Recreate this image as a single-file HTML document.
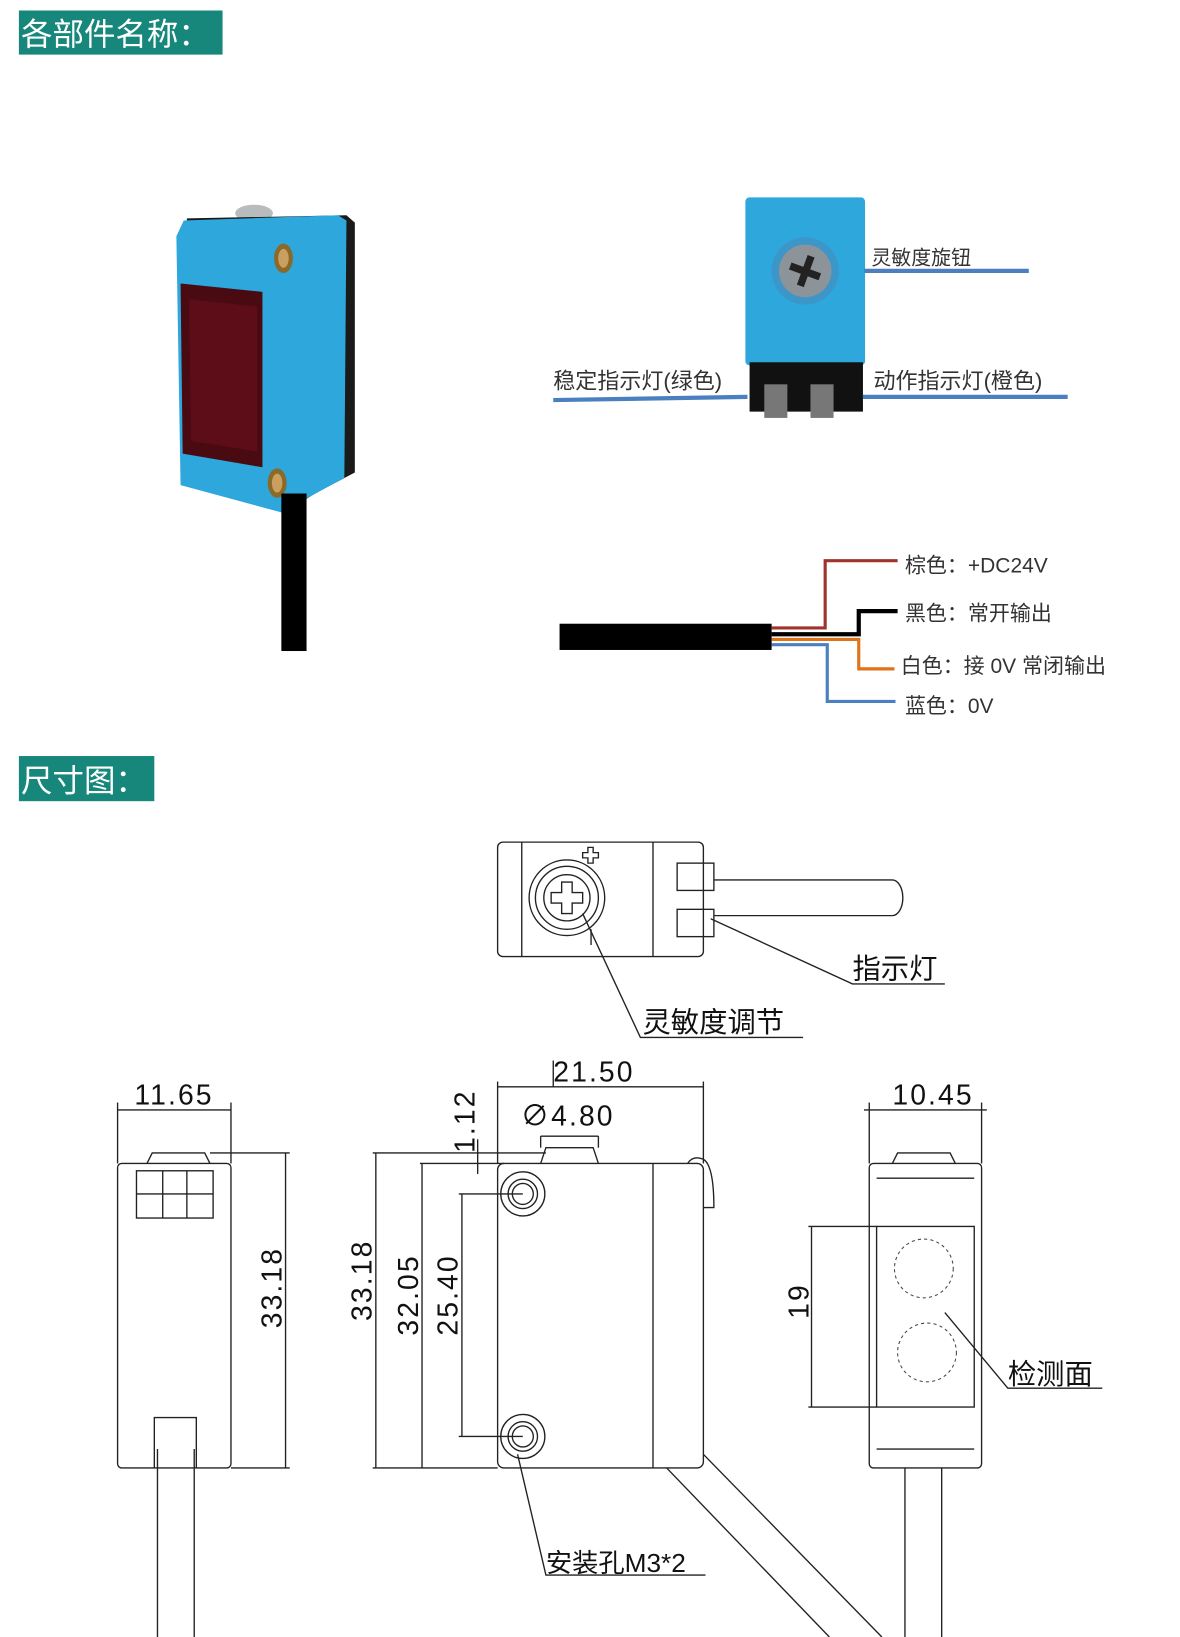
<!DOCTYPE html>
<html><head><meta charset="utf-8"><style>
html,body{margin:0;padding:0;background:#fff;}
svg{display:block;}
text{font-family:"Liberation Sans","Noto Sans CJK SC",sans-serif;}
</style></head><body>
<svg width="1180" height="1637" viewBox="0 0 1124 1559" preserveAspectRatio="none" xmlns="http://www.w3.org/2000/svg">
<!-- headers -->
<rect x="18" y="10" width="194" height="42" fill="#17877c"/>
<text x="20" y="43" font-size="30" fill="#fff" font-family="Noto Sans CJK SC">各部件名称：</text>
<rect x="18" y="720" width="129" height="43" fill="#17877c"/>
<text x="20" y="754" font-size="30" fill="#fff" font-family="Noto Sans CJK SC">尺寸图：</text>

<!-- sensor photo -->
<ellipse cx="242" cy="203" rx="18" ry="8" fill="#b8bcbc"/>
<polygon points="178,208 330,205 338,212 338,450 300,470 272,488 178,462" fill="#1a1a1a"/>
<polygon points="175,210 322,205 330,210 328,455 268,488 172,462 168,225" fill="#2ea7dc"/>
<polygon points="172,270 250,278 250,445 174,432" fill="#4a0a12"/>
<polygon points="180,285 245,292 245,430 182,420" fill="#6a0f1a" opacity="0.6"/>
<ellipse cx="270" cy="246" rx="9" ry="14" fill="#8a6a2a"/>
<ellipse cx="270" cy="246" rx="5" ry="9" fill="#c9a060"/>
<ellipse cx="264" cy="460" rx="9" ry="14" fill="#8a6a2a"/>
<ellipse cx="264" cy="460" rx="5" ry="9" fill="#c9a060"/>
<rect x="268" y="470" width="24" height="150" fill="#000"/>

<!-- top view photo -->
<rect x="710" y="188" width="114" height="160" rx="4" fill="#2ea7dc"/>
<rect x="714" y="345" width="108" height="47" fill="#111"/>
<rect x="728" y="366" width="22" height="32" fill="#777"/>
<rect x="772" y="366" width="22" height="32" fill="#777"/>
<circle cx="767" cy="258" r="32" fill="#3d96c8"/>
<circle cx="767" cy="258" r="25" fill="#8c9499"/>
<rect x="764" y="243" width="7" height="30" fill="#222" transform="rotate(20 767 258)"/>
<rect x="752" y="255" width="30" height="7" fill="#222" transform="rotate(20 767 258)"/>
<line x1="823" y1="258" x2="980" y2="258" stroke="#4a7fc0" stroke-width="4"/>
<text x="830" y="252" font-size="19" fill="#333" font-family="Liberation Serif,Noto Serif CJK SC,serif">灵敏度旋钮</text>
<line x1="527" y1="381" x2="712" y2="378" stroke="#4a7fc0" stroke-width="4"/>
<text x="527" y="370" font-size="21" fill="#333" font-family="Liberation Serif,Noto Serif CJK SC,serif">稳定指示灯(绿色)</text>
<line x1="822" y1="378" x2="1017" y2="378" stroke="#4a7fc0" stroke-width="4"/>
<text x="832" y="370" font-size="21" fill="#333" font-family="Liberation Serif,Noto Serif CJK SC,serif">动作指示灯(橙色)</text>

<!-- wires -->
<rect x="533" y="594" width="202" height="25" fill="#000"/>
<polyline points="735,598 786,598 786,534 855,534" fill="none" stroke="#a0342c" stroke-width="3"/>
<polyline points="735,604 818,604 818,582 855,582" fill="none" stroke="#000" stroke-width="4"/>
<polyline points="735,609 818,609 818,637 852,637" fill="none" stroke="#e0721a" stroke-width="3"/>
<polyline points="735,614 788,614 788,668 853,668" fill="none" stroke="#4a7fc0" stroke-width="3"/>
<g font-size="20" fill="#333" font-family="Liberation Serif,Noto Serif CJK SC,serif">
<text x="862" y="545">棕色：+DC24V</text>
<text x="862" y="591">黑色：常开输出</text>
<text x="858" y="641">白色：接 0V 常闭输出</text>
<text x="862" y="679">蓝色：0V</text>
</g>

<g fill="none" stroke="#222" stroke-width="1.3">
<!-- top drawing -->
<rect x="474" y="802" width="196" height="109" rx="5"/>
<line x1="497" y1="802" x2="497" y2="911"/>
<line x1="622" y1="802" x2="622" y2="911"/>
<circle cx="540" cy="855" r="36"/>
<circle cx="540" cy="855" r="30"/>
<circle cx="540" cy="855" r="22"/>
<path d="M535,840 h10 v10 h10 v10 h-10 v10 h-10 v-10 h-10 v-10 h10 z"/>
<path d="M555,812 h5 v-5 h5 v5 h5 v5 h-5 v5 h-5 v-5 h-5 z"/>
<line x1="563" y1="885" x2="563" y2="900"/>
<rect x="645" y="822" width="35" height="26"/>
<rect x="645" y="866" width="35" height="26"/>
<path d="M680,838 H850 a10,17 0 0 1 0,34 H680"/>
<polyline points="677,875 812,937 900,937"/>
<polyline points="555,870 610,988 765,988"/>

<!-- left view -->
<rect x="112" y="1108" width="108" height="290" rx="4"/>
<path d="M140,1108 L145,1098 H195 L200,1108"/>
<rect x="130" y="1115" width="73" height="45"/>
<line x1="155" y1="1115" x2="155" y2="1160"/>
<line x1="178" y1="1115" x2="178" y2="1160"/>
<line x1="130" y1="1137" x2="203" y2="1137"/>
<path d="M147,1398 V1350 H187 V1398"/>
<line x1="150" y1="1380" x2="150" y2="1559"/>
<line x1="185" y1="1380" x2="185" y2="1559"/>
<line x1="112" y1="1050" x2="112" y2="1108"/>
<line x1="220" y1="1050" x2="220" y2="1108"/>
<line x1="112" y1="1057" x2="220" y2="1057"/>
<line x1="200" y1="1098" x2="276" y2="1098"/>
<line x1="220" y1="1398" x2="276" y2="1398"/>
<line x1="272" y1="1098" x2="272" y2="1398"/>

<!-- front view -->
<rect x="474" y="1108" width="196" height="290" rx="6"/>
<line x1="622" y1="1108" x2="622" y2="1398"/>
<path d="M515,1108 L520,1093 H565 L570,1108"/>
<path d="M655,1108 Q660,1100 670,1104 Q680,1110 680,1150 L670,1150"/>
<circle cx="498" cy="1137" r="21"/><circle cx="498" cy="1137" r="14"/><circle cx="498" cy="1137" r="10"/>
<circle cx="498" cy="1368" r="21"/><circle cx="498" cy="1368" r="14"/><circle cx="498" cy="1368" r="10"/>
<line x1="355" y1="1098" x2="520" y2="1098"/>
<line x1="355" y1="1398" x2="474" y2="1398"/>
<line x1="358" y1="1098" x2="358" y2="1398"/>
<line x1="400" y1="1108" x2="480" y2="1108"/>
<line x1="402" y1="1108" x2="402" y2="1398"/>
<line x1="437" y1="1137" x2="498" y2="1137"/>
<line x1="437" y1="1368" x2="498" y2="1368"/>
<line x1="440" y1="1137" x2="440" y2="1368"/>
<line x1="455" y1="1085" x2="455" y2="1118"/>
<line x1="474" y1="1030" x2="474" y2="1108"/>
<line x1="670" y1="1030" x2="670" y2="1108"/>
<line x1="474" y1="1035" x2="670" y2="1035"/>
<line x1="527" y1="1010" x2="527" y2="1035"/>
<line x1="515" y1="1082" x2="570" y2="1082"/>
<line x1="515" y1="1082" x2="515" y2="1093"/>
<line x1="570" y1="1082" x2="570" y2="1093"/>
<polyline points="493,1385 520,1500 672,1500"/>
<line x1="635" y1="1398" x2="790" y2="1559"/>
<line x1="670" y1="1385" x2="840" y2="1559"/>

<!-- right view -->
<rect x="828" y="1108" width="107" height="290" rx="4"/>
<path d="M850,1108 L855,1098 H905 L910,1108"/>
<rect x="835" y="1168" width="93" height="172"/>
<line x1="835" y1="1122" x2="928" y2="1122"/>
<line x1="835" y1="1380" x2="928" y2="1380"/>
<line x1="770" y1="1168" x2="835" y2="1168"/>
<line x1="770" y1="1340" x2="835" y2="1340"/>
<line x1="773" y1="1168" x2="773" y2="1340"/>
<line x1="828" y1="1050" x2="828" y2="1108"/>
<line x1="935" y1="1050" x2="935" y2="1108"/>
<line x1="823" y1="1057" x2="940" y2="1057"/>
<polyline points="900,1250 960,1322 1050,1322"/>
<line x1="862" y1="1398" x2="862" y2="1559"/>
<line x1="897" y1="1398" x2="897" y2="1559"/>
</g>
<g fill="none" stroke="#444" stroke-width="1" stroke-dasharray="3,3">
<circle cx="880" cy="1208" r="28"/>
<circle cx="883" cy="1288" r="28"/>
</g>

<g font-size="27" fill="#111" font-family="Noto Sans CJK SC,sans-serif">
<text x="812" y="932">指示灯</text>
<text x="612" y="983">灵敏度调节</text>
<text x="520" y="1497" font-size="25">安装孔M3*2</text>
<text x="960" y="1318">检测面</text>
</g>
<g font-size="27" fill="#111" letter-spacing="2">
<text x="128" y="1052">11.65</text>
<text x="527" y="1030">21.50</text>
<text x="496" y="1072">∅4.80</text>
<text x="850" y="1052">10.45</text>
<text transform="translate(268,1265) rotate(-90)">33.18</text>
<text transform="translate(354,1258) rotate(-90)">33.18</text>
<text transform="translate(398,1272) rotate(-90)">32.05</text>
<text transform="translate(436,1272) rotate(-90)">25.40</text>
<text transform="translate(452,1098) rotate(-90)">1.12</text>
<text transform="translate(770,1256) rotate(-90)">19</text>
</g>
</svg>
</body></html>
